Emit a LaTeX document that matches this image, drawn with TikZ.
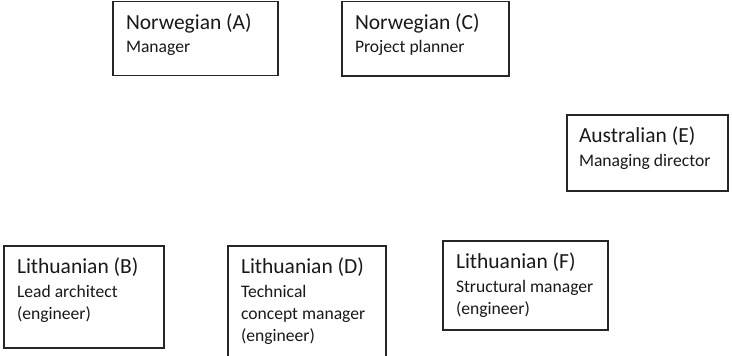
\documentclass[tikz,border=0pt]{standalone}
\usepackage{fontspec}
\setmainfont{Carlito}
\newcommand{\ttlf}{\fontsize{21.5}{25}\selectfont}
\newcommand{\subf}{\fontsize{17.6}{21.8}\selectfont}
\newcommand{\lbltext}[2]{\parbox[t]{160pt}{\raggedright\ttlf #1\par\vspace{2.2pt}\subf #2}}
\tikzset{
  box/.style={draw=black!85, line width=1.2pt, rectangle, inner sep=0pt, outer sep=0pt, anchor=north west},
  lbl/.style={inner sep=0pt, outer sep=0pt, anchor=base west, text=black!90}
}
\begin{document}
\begin{tikzpicture}[x=1pt,y=-1pt]
\useasboundingbox[fill=white] (0,0) rectangle (732,356);
% boxes
\node[box, minimum width=165pt, minimum height=74pt] (A) at (113,1.5) {};
\node[box, minimum width=167pt, minimum height=74.5pt] (C) at (342,1.5) {};
\node[box, minimum width=161pt, minimum height=76pt] (E) at (567,115) {};
\node[box, minimum width=160pt, minimum height=102pt] (B) at (4,246) {};
\node[box, minimum width=158pt, minimum height=120pt] (D) at (228,246) {};
\node[box, minimum width=165pt, minimum height=89pt] (F) at (443,241) {};
% labels
\node[lbl] (At) at ([xshift=13pt,yshift=-27.5pt]A.north west) {\lbltext{Norwegian (A)}{Manager}};
\node[lbl] (Ct) at ([xshift=13pt,yshift=-27.5pt]C.north west) {\lbltext{Norwegian (C)}{Project planner}};
\node[lbl] (Et) at ([xshift=12pt,yshift=-27.5pt]E.north west) {\lbltext{Australian (E)}{Managing director}};
\node[lbl] (Bt) at ([xshift=13pt,yshift=-27.5pt]B.north west) {\lbltext{Lithuanian (B)}{Lead architect\\(engineer)}};
\node[lbl] (Dt) at ([xshift=13pt,yshift=-27.5pt]D.north west) {\lbltext{Lithuanian (D)}{Technical\\concept manager\\(engineer)}};
\node[lbl] (Ft) at ([xshift=13pt,yshift=-27.5pt]F.north west) {\lbltext{Lithuanian (F)}{Structural manager\\(engineer)}};
\end{tikzpicture}
\end{document}
